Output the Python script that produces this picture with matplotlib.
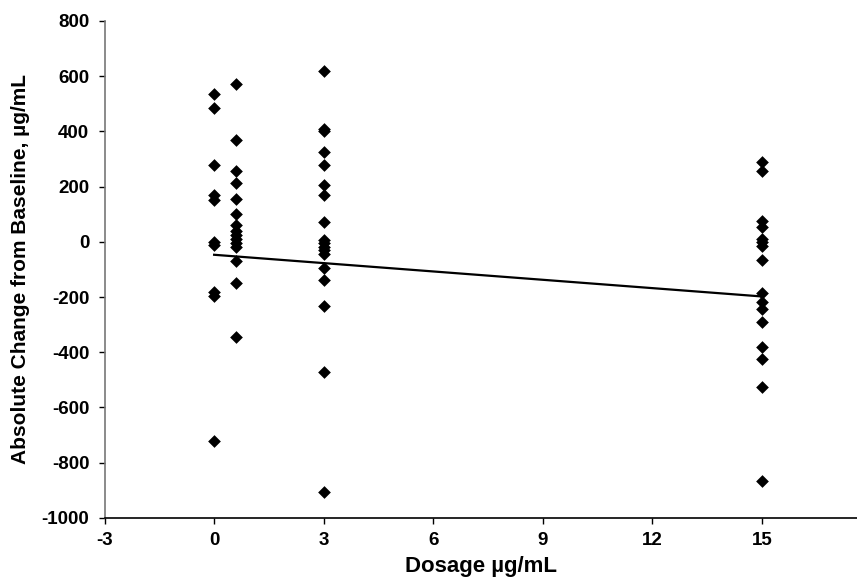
import matplotlib
matplotlib.use("Agg")
import matplotlib.pyplot as plt

plt.rcParams['font.family'] = ['Liberation Sans', 'DejaVu Sans']
plt.rcParams['axes.unicode_minus'] = False

dose_0 = [536, 484, 279, 168, 150, 0, -12, -180, -195, -722]
dose_06 = [572, 367, 255, 213, 155, 101, 62, 40, 25, 10, -5, -20, -71, -150, -345]
dose_3 = [620, 410, 400, 325, 278, 205, 170, 70, 8, -5, -18, -30, -45, -95, -138, -234, -470, -905]
dose_15 = [290, 255, 75, 55, 10, 0, -15, -65, -185, -218, -245, -290, -380, -425, -527, -865]
dose_levels = [0, 0.6, 3, 15]

trend_x = [0, 15]
trend_y = [-47, -198]

x_ticks = [-3, 0, 3, 6, 9, 12, 15]
y_ticks = [-1000, -800, -600, -400, -200, 0, 200, 400, 600, 800]

fig = plt.figure(figsize=(8.57, 5.8), dpi=100)
ax = fig.add_axes([0.122, 0.107, 0.878, 0.857])

groups = [dose_0, dose_06, dose_3, dose_15]
for d, vals in zip(dose_levels, groups):
    ax.scatter([d] * len(vals), vals, marker='D', s=42, color='black', zorder=3, linewidths=0)

ax.plot(trend_x, trend_y, color='black', lw=1.6, zorder=2)

ax.set_xlim(-3, 17.6)
ax.set_ylim(-1000, 800)
ax.set_xticks(x_ticks)
ax.set_yticks(y_ticks)
ax.tick_params(axis='both', labelsize=13.5, direction='out', length=4, width=1)
ax.tick_params(axis='x', pad=6)
ax.tick_params(axis='y', pad=7)
for lab in ax.get_xticklabels() + ax.get_yticklabels():
    lab.set_fontweight('bold')
ax.spines['top'].set_visible(False)
ax.spines['right'].set_visible(False)
ax.spines['left'].set_color('#777777')
ax.spines['left'].set_linewidth(1.2)
ax.spines['bottom'].set_linewidth(1.2)

ax.set_xlabel('Dosage µg/mL', fontsize=16, fontweight='bold', labelpad=5)
ax.set_ylabel('Absolute Change from Baseline, µg/mL', fontsize=15, fontweight='bold', labelpad=8)

fig.savefig('out.png', dpi=100)
